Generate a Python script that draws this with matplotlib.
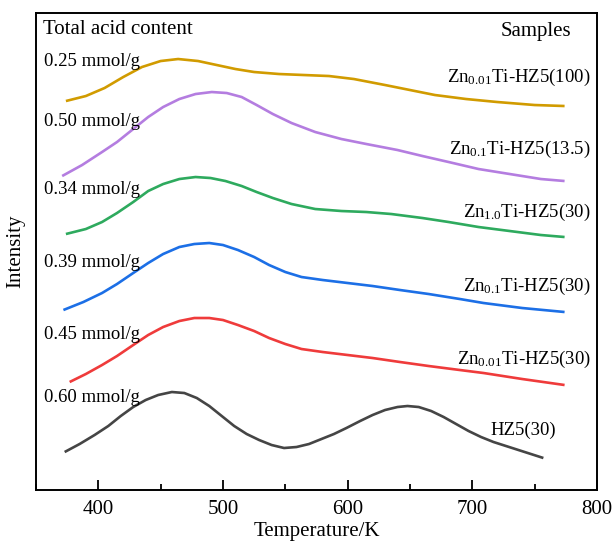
import matplotlib
matplotlib.use("Agg")
import matplotlib.pyplot as plt
from matplotlib.ticker import MultipleLocator

plt.rcParams['font.family'] = ['Liberation Serif', 'DejaVu Serif']
plt.rcParams['mathtext.fontset'] = 'custom'
plt.rcParams['mathtext.rm'] = 'Liberation Serif'
plt.rcParams['mathtext.it'] = 'Liberation Serif:italic'

# TPD curves (temperature in K, intensity in arbitrary units)
tGold = [374, 390, 405, 420, 435, 450, 464, 480, 495, 510, 525, 545, 565, 585, 605, 630,
         650, 670, 695, 720, 750, 774]
yGold = [389, 394, 402, 413, 423, 429, 431, 429, 425, 421, 418, 416, 415, 414, 411, 405,
         400, 395, 391, 388, 385, 384]

tPurple = [371, 387, 403, 415, 428, 440, 452, 465, 478, 491, 503, 515, 527, 540, 555, 574,
           595, 615, 640, 660, 681, 705, 735, 755, 774]
yPurple = [314, 325, 338, 348, 361, 373, 383, 391, 396, 398, 397, 393, 385, 376, 367, 358,
           351, 346, 340, 334, 328, 321, 315, 311, 309]

tGreen = [374, 390, 403, 415, 428, 440, 452, 465, 478, 490, 502, 515, 527, 540, 555, 574,
          595, 615, 635, 660, 681, 705, 730, 755, 774]
yGreen = [256, 261, 268, 277, 288, 299, 306, 311, 313, 312, 309, 304, 298, 292, 286, 281,
          279, 278, 276, 272, 268, 263, 259, 255, 253]

tBlue = [372, 388, 403, 415, 428, 440, 452, 465, 477, 489, 500, 512, 525, 537, 550, 563,
         580, 600, 620, 642, 665, 690, 709, 740, 774]
yBlue = [180, 188, 197, 206, 217, 227, 236, 243, 246, 247, 245, 240, 233, 225, 218, 213,
         210, 207, 204, 200, 196, 191, 187, 182, 178]

tRed = [377, 390, 403, 415, 428, 440, 452, 465, 477, 489, 500, 512, 525, 537, 550, 563,
        580, 600, 620, 642, 665, 690, 709, 740, 774]
yRed = [108, 116, 125, 134, 145, 155, 163, 169, 172, 172, 170, 165, 159, 152, 146, 141,
        138, 135, 132, 128, 124, 120, 117, 111, 105]

tBlack = [373, 385, 397, 408, 418, 428, 438, 448, 459, 469, 479, 489, 499, 509, 519, 529,
          539, 549, 559, 569, 579, 589, 599, 610, 620, 630, 640, 648, 657, 667, 677, 687,
          697, 707, 717, 727, 737, 747, 757]
yBlack = [38, 46, 55, 64, 74, 83, 90, 95, 98, 97, 92, 84, 74, 64, 56, 50,
          45, 42, 43, 46, 51, 56, 62, 69, 75, 80, 83, 84, 83, 79, 73, 66,
          59, 53, 48, 44, 40, 36, 32]

acidLabels = ["0.25 mmol/g", "0.50 mmol/g", "0.34 mmol/g", "0.39 mmol/g", "0.45 mmol/g", "0.60 mmol/g"]
sampleLabels = [r"Zn$_{\mathrm{0.01}}$Ti-HZ5(100)", r"Zn$_{\mathrm{0.1}}$Ti-HZ5(13.5)",
                r"Zn$_{\mathrm{1.0}}$Ti-HZ5(30)", r"Zn$_{\mathrm{0.1}}$Ti-HZ5(30)",
                r"Zn$_{\mathrm{0.01}}$Ti-HZ5(30)", "HZ5(30)"]

series = [(tGold, yGold, "#D19B00"), (tPurple, yPurple, "#B47DE0"), (tGreen, yGreen, "#2EAA5E"),
          (tBlue, yBlue, "#1C6FE6"), (tRed, yRed, "#EF3B3B"), (tBlack, yBlack, "#454545")]

fig = plt.figure(figsize=(6.14, 5.45), dpi=100)
ax = fig.add_axes([0.0586, 0.1009, 0.9137, 0.8752])

for t, y, c in series:
    ax.plot(t, y, color=c, linewidth=1.9, solid_capstyle='butt', solid_joinstyle='round')

ax.set_xlim(350, 800)
ax.set_ylim(0, 477)
ax.xaxis.set_major_locator(MultipleLocator(100))
ax.xaxis.set_minor_locator(MultipleLocator(50))
ax.tick_params(axis='x', which='both', direction='in', width=1.3, labelsize=15, pad=7)
ax.tick_params(axis='x', which='major', length=7)
ax.tick_params(axis='x', which='minor', length=4)
ax.set_yticks([])
for s in ax.spines.values():
    s.set_linewidth(1.4)

ax.set_xlabel("Temperature/K", fontsize=15, labelpad=2)
ax.set_ylabel("Intensity", fontsize=15, labelpad=8)

ax.text(0.012, 0.966, "Total acid content", transform=ax.transAxes, fontsize=15, va='center', ha='left')
ax.text(0.955, 0.961, "Samples", transform=ax.transAxes, fontsize=15, va='center', ha='right')

acidY = [0.899, 0.772, 0.629, 0.476, 0.325, 0.193]
for lab, yy in zip(acidLabels, acidY):
    ax.text(0.015, yy, lab, transform=ax.transAxes, fontsize=13.5, va='center', ha='left')

sampleY = [0.866, 0.713, 0.581, 0.426, 0.273, 0.126]
sampleX = [0.989, 0.989, 0.989, 0.989, 0.989, 0.927]
for lab, xx, yy in zip(sampleLabels, sampleX, sampleY):
    ax.text(xx, yy, lab, transform=ax.transAxes, fontsize=13.5, va='center', ha='right')

plt.savefig("out.png", dpi=100)
